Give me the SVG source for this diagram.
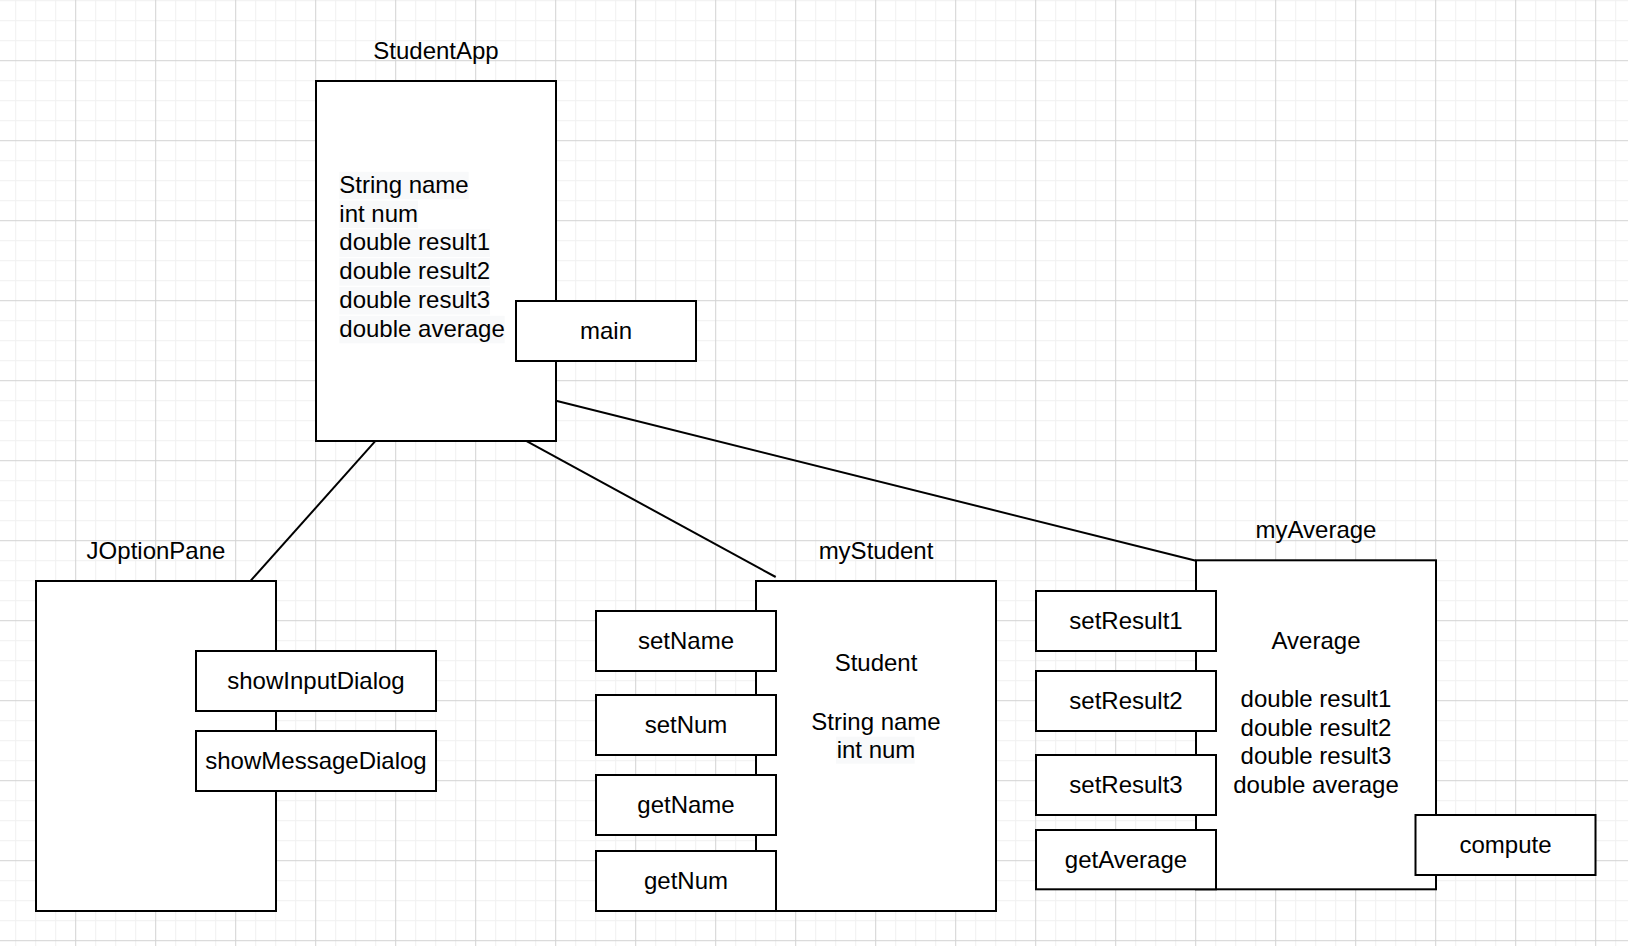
<svg xmlns="http://www.w3.org/2000/svg" width="1628" height="946" viewBox="0 0 1628 946">
  <style>
    .box { fill: #ffffff; stroke: #000000; stroke-width: 2; }
    .t { font-family: "Liberation Sans", Arial, Helvetica, sans-serif; font-size: 24px; fill: #000000; }
    .c { text-anchor: middle; }
    .hl { fill: #f8f9fa; }
    .edge { fill: none; stroke: #000000; stroke-width: 2; }
  </style>
  <defs>
    <pattern id="grid" x="75.2" y="60.2" width="80" height="80" patternUnits="userSpaceOnUse">
      <path d="M20.5 0V80M40.5 0V80M60.5 0V80M0 20.5H80M0 40.5H80M0 60.5H80" stroke="#f0f0f0" stroke-width="1" fill="none"/>
      <path d="M0.5 0V80M0 0.5H80" stroke="#d2d2d2" stroke-width="1" fill="none"/>
    </pattern>
  </defs>
  <rect x="0" y="0" width="1628" height="946" fill="#ffffff"/>
  <rect x="0" y="0" width="1628" height="946" fill="url(#grid)"/>

  <g id="connectors">
    <path class="edge" d="M375.7 440.7L250.7 580.7"/>
    <path class="edge" d="M525.7 440.7L775.7 577"/>
    <path class="edge" d="M556 400.7L1196 560.7"/>
  </g>

  <g id="StudentApp">
    <text class="t c" x="436" y="59.3">StudentApp</text>
    <rect class="box" x="316" y="81" width="240" height="360"/>
    <rect class="hl" x="339.3" y="171.8" width="129.4" height="27.5"/>
    <rect class="hl" x="339.3" y="200.6" width="78.7" height="27.5"/>
    <rect class="hl" x="339.3" y="229.4" width="150.7" height="27.5"/>
    <rect class="hl" x="339.3" y="258.2" width="150.7" height="27.5"/>
    <rect class="hl" x="339.3" y="287" width="150.7" height="27.5"/>
    <rect class="hl" x="339.3" y="315.8" width="165.4" height="27.5"/>
    <text class="t" x="339.3" y="192.8">String name</text>
    <text class="t" x="339.3" y="221.6">int num</text>
    <text class="t" x="339.3" y="250.4">double result1</text>
    <text class="t" x="339.3" y="279.2">double result2</text>
    <text class="t" x="339.3" y="308">double result3</text>
    <text class="t" x="339.3" y="336.8">double average</text>
  </g>
  <g id="main">
    <rect class="box" x="516" y="301" width="180" height="60"/>
    <text class="t c" x="606" y="339">main</text>
  </g>

  <g id="JOptionPane">
    <text class="t c" x="156" y="559">JOptionPane</text>
    <rect class="box" x="36" y="581" width="240" height="330"/>
  </g>
  <g id="showInputDialog">
    <rect class="box" x="196" y="651" width="240" height="60"/>
    <text class="t c" x="316" y="689">showInputDialog</text>
  </g>
  <g id="showMessageDialog">
    <rect class="box" x="196" y="731" width="240" height="60"/>
    <text class="t c" x="316" y="769">showMessageDialog</text>
  </g>

  <g id="myStudent">
    <text class="t c" x="876" y="559">myStudent</text>
    <rect class="box" x="756" y="581" width="240" height="330"/>
    <rect class="hl" x="836" y="736.7" width="78.7" height="27"/>
    <text class="t c" x="876" y="671">Student</text>
    <text class="t c" x="876" y="729.5">String name</text>
    <text class="t c" x="876" y="758">int num</text>
  </g>
  <g id="setName">
    <rect class="box" x="596" y="611" width="180" height="60"/>
    <text class="t c" x="686" y="649">setName</text>
  </g>
  <g id="setNum">
    <rect class="box" x="596" y="695" width="180" height="60"/>
    <text class="t c" x="686" y="733">setNum</text>
  </g>
  <g id="getName">
    <rect class="box" x="596" y="775" width="180" height="60"/>
    <text class="t c" x="686" y="813">getName</text>
  </g>
  <g id="getNum">
    <rect class="box" x="596" y="851" width="180" height="60"/>
    <text class="t c" x="686" y="889">getNum</text>
  </g>

  <g id="myAverage">
    <text class="t c" x="1316" y="538.3">myAverage</text>
    <rect class="box" x="1196" y="560.3" width="240" height="329"/>
    <text class="t c" x="1316" y="649">Average</text>
    <text class="t c" x="1316" y="707">double result1</text>
    <text class="t c" x="1316" y="735.5">double result2</text>
    <text class="t c" x="1316" y="764.3">double result3</text>
    <text class="t c" x="1316" y="793">double average</text>
  </g>
  <g id="setResult1">
    <rect class="box" x="1036" y="591" width="180" height="60"/>
    <text class="t c" x="1126" y="629">setResult1</text>
  </g>
  <g id="setResult2">
    <rect class="box" x="1036" y="671" width="180" height="60"/>
    <text class="t c" x="1126" y="709">setResult2</text>
  </g>
  <g id="setResult3">
    <rect class="box" x="1036" y="755" width="180" height="60"/>
    <text class="t c" x="1126" y="793">setResult3</text>
  </g>
  <g id="getAverage">
    <rect class="box" x="1036" y="830" width="180" height="59.3"/>
    <text class="t c" x="1126" y="867.5">getAverage</text>
  </g>
  <g id="compute">
    <rect class="box" x="1415.5" y="815" width="180" height="60"/>
    <text class="t c" x="1505.5" y="853">compute</text>
  </g>
</svg>
